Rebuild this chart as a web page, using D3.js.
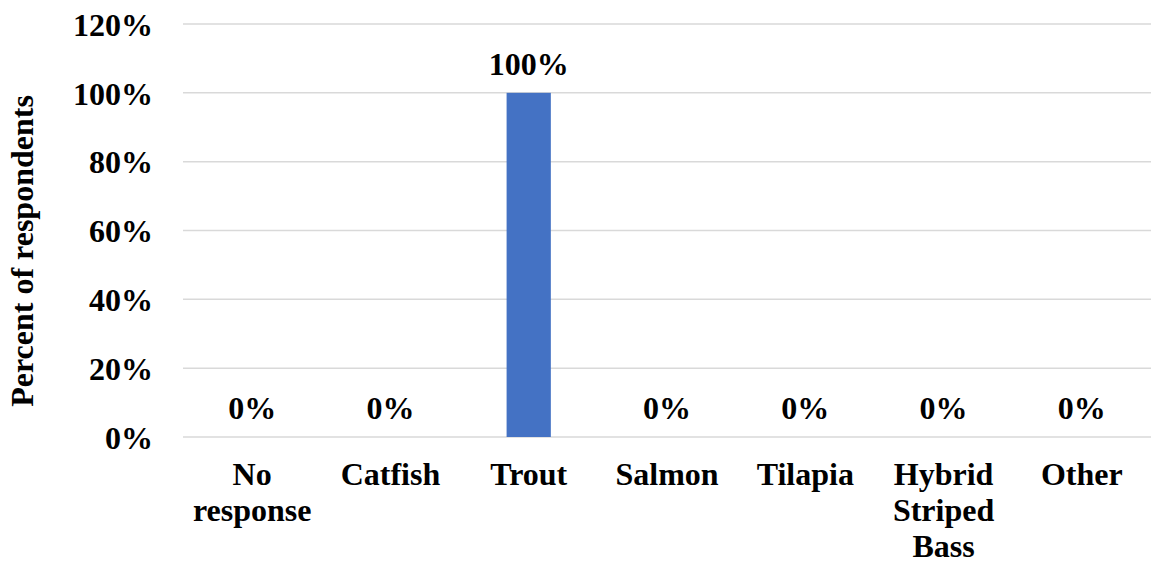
<!DOCTYPE html>
<html>
<head>
<meta charset="utf-8">
<script src="https://cdn.jsdelivr.net/npm/d3@7"></script>
<style>
  body { margin: 0; background: #fff; }
  text { font-family: "Liberation Serif", "Times New Roman", serif; font-weight: bold; fill: #000; }
</style>
</head>
<body>
<div id="chart"></div>
<script>
// data
var categories = [["No", "response"], ["Catfish"], ["Trout"], ["Salmon"], ["Tilapia"], ["Hybrid", "Striped", "Bass"], ["Other"]];
var values = [0, 0, 100, 0, 0, 0, 0];
var yTicks = [0, 20, 40, 60, 80, 100, 120];

var W = 1151, H = 567;
var margin = {top: 24, right: 0, bottom: 130, left: 183},
  width = W - margin.left - margin.right,
  height = H - margin.top - margin.bottom;

var svg = d3.select("#chart")
  .append("svg")
  .attr("width", W)
  .attr("height", H)
  .append("g")
  .attr("transform", "translate(" + margin.left + "," + margin.top + ")");

var x = d3.scaleBand()
  .domain(d3.range(categories.length))
  .range([0, width])
  .paddingInner(0.68)
  .paddingOuter(0.34);

var y = d3.scaleLinear()
  .domain([0, 120])
  .range([height, 0]);

// gridlines
svg.append("g")
  .selectAll("line")
  .data(yTicks)
  .enter().append("line")
  .attr("x1", 0)
  .attr("x2", width)
  .attr("y1", d => y(d))
  .attr("y2", d => y(d))
  .attr("stroke", "#d9d9d9")
  .attr("stroke-width", 1.5);

// y axis labels
var yAxis = d3.axisLeft(y)
  .tickValues(yTicks)
  .tickFormat(d => d + "%")
  .tickSize(0)
  .tickPadding(30);
var gy = svg.append("g").call(yAxis);
gy.select(".domain").remove();
gy.selectAll("text")
  .style("font-size", "32px")
  .style("font-family", "'Liberation Serif', serif")
  .style("font-weight", "bold")
  .attr("dy", "0.35em");

// bars
svg.selectAll(".bar")
  .data(values)
  .enter().append("rect")
  .attr("class", "bar")
  .attr("x", (d, i) => x(i))
  .attr("y", d => y(d))
  .attr("width", x.bandwidth())
  .attr("height", d => height - y(d))
  .attr("fill", "#4472c4");

// value labels
svg.selectAll(".val")
  .data(values)
  .enter().append("text")
  .attr("class", "val")
  .attr("x", (d, i) => x(i) + x.bandwidth() / 2)
  .attr("y", d => y(d) - 18)
  .attr("text-anchor", "middle")
  .style("font-size", "32px")
  .text(d => d + "%");

// category labels
var cat = svg.selectAll(".cat")
  .data(categories)
  .enter().append("text")
  .attr("class", "cat")
  .attr("text-anchor", "middle")
  .attr("transform", (d, i) => "translate(" + (x(i) + x.bandwidth() / 2) + "," + (height + 48) + ")")
  .style("font-size", "32px");
cat.selectAll("tspan")
  .data(d => d)
  .enter().append("tspan")
  .attr("x", 0)
  .attr("y", (d, i) => i * 36)
  .text(d => d);

// y title
svg.append("text")
  .attr("transform", "translate(" + (33 - margin.left) + "," + (251 - margin.top) + ") rotate(-90)")
  .attr("text-anchor", "middle")
  .style("font-size", "32px")
  .text("Percent of respondents");
</script>
</body>
</html>
